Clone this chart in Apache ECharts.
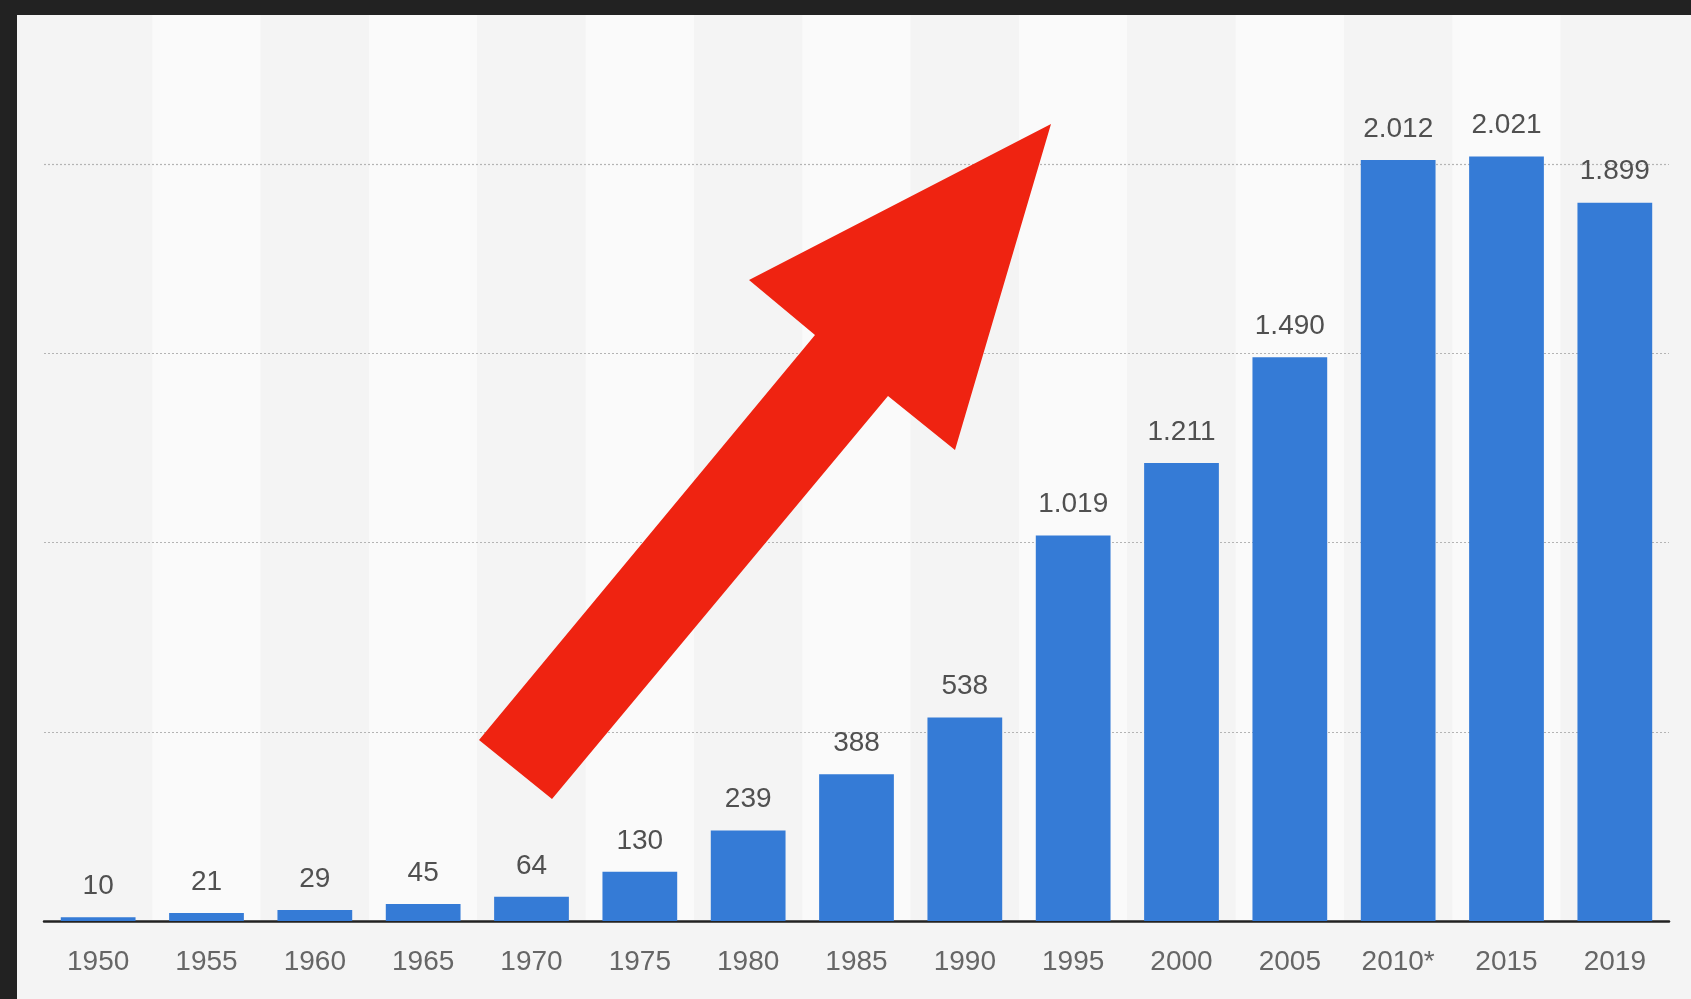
<!DOCTYPE html>
<html>
<head>
<meta charset="utf-8">
<script src="https://cdn.jsdelivr.net/npm/echarts@6/dist/echarts.min.js"></script>
<style>
  html, body { margin: 0; padding: 0; width: 1691px; height: 999px; background: #222222; overflow: hidden; }
  #panel { position: absolute; left: 17px; top: 15px; width: 1674px; height: 984px; background: #f4f4f4; }
  #chart { position: absolute; left: 0; top: 0; width: 1691px; height: 999px; }
</style>
</head>
<body>
<div id="panel"></div>
<div id="chart"></div>
<script>
const categories = ['1950', '1955', '1960', '1965', '1970', '1975', '1980', '1985', '1990', '1995', '2000', '2005', '2010*', '2015', '2019'];
const values = [10, 21, 29, 45, 64, 130, 239, 388, 538, 1019, 1211, 1490, 2012, 2021, 1899];
const yTicks = [0, 500, 1000, 1500, 2000];

function fmt(v) {
  return String(v).replace(/\B(?=(\d{3})+(?!\d))/g, '.');
}

const chart = echarts.init(document.getElementById('chart'), null, { renderer: 'canvas' });
chart.setOption({
  backgroundColor: 'transparent',
  animation: false,
  grid: { left: 44, right: 22, top: 15, bottom: 78, containLabel: false },
  xAxis: {
    type: 'category',
    data: categories,
    z: 0,
    axisTick: { show: false },
    axisLine: { show: true, lineStyle: { color: '#222222', width: 2.5 } },
    axisLabel: {
      color: '#666666',
      fontSize: 28,
      fontFamily: 'Liberation Sans, Arial, sans-serif',
      margin: 27,
      lineHeight: 28
    },
    splitLine: { show: false },
    splitArea: { show: true, areaStyle: { color: ['#f4f4f4', '#fafafa'] } }
  },
  yAxis: {
    type: 'value',
    z: 3,
    min: yTicks[0],
    max: 2395,
    interval: yTicks[1] - yTicks[0],
    axisLabel: { show: false },
    axisLine: { show: false },
    axisTick: { show: false },
    splitLine: {
      show: true,
      showMaxLine: false,
      showMinLine: false,
      lineStyle: { color: '#b4b4b4', width: 1.2, type: [2, 2] }
    }
  },
  series: [{
    type: 'bar',
    z: 4,
    data: values,
    barCategoryGap: '31%',
    itemStyle: { color: '#357bd6' },
    label: {
      show: true,
      position: 'top',
      distance: 17,
      color: '#505050',
      fontSize: 28,
      lineHeight: 28,
      fontFamily: 'Liberation Sans, Arial, sans-serif',
      formatter: p => fmt(p.value)
    }
  }],
  graphic: [{
    type: 'polygon',
    z: 100,
    shape: {
      points: [[1051, 124], [955, 450], [888, 396], [552, 799], [479, 740], [815, 335], [749, 280]]
    },
    style: { fill: '#ef2311' }
  }]
});
</script>
</body>
</html>
